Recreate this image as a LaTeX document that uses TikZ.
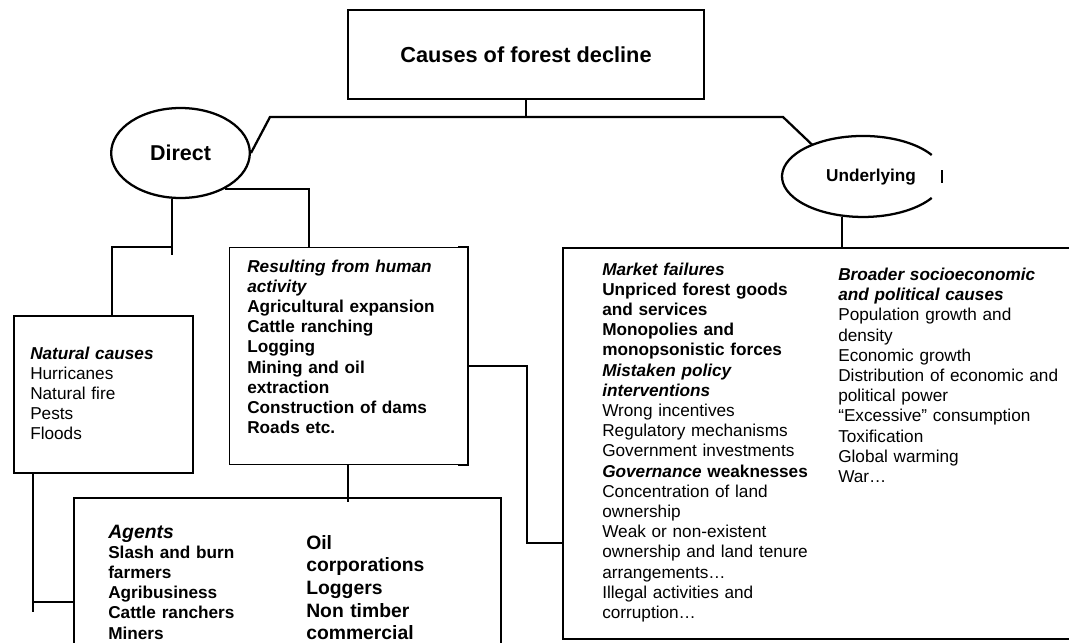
\documentclass[tikz,border=0pt]{standalone}
\usepackage{fontspec}
\setmainfont{Liberation Sans}
\usetikzlibrary{shapes,positioning,calc}

\tikzset{
    frame/.style={draw, line width=1.7pt, inner sep=0pt},
    link/.style={line width=1.7pt},
    body/.style={font=\fontsize{12.9}{15.15}\selectfont, text width=200pt, align=left, anchor=base west, inner sep=0pt},
    agent/.style={font=\bfseries\fontsize{14.5}{17}\selectfont, text width=200pt, align=left, anchor=base west, inner sep=0pt}
}

\begin{document}
\begin{tikzpicture}[x=0.75pt, y=-0.75pt]
    \useasboundingbox (0,0) rectangle (1069,642);

    % Title box at top
    \node[frame, minimum width=267pt, minimum height=67pt, font=\bfseries\fontsize{16.3}{19}\selectfont] (title) at (526,54.5) {Causes of forest decline};

    % The two kinds of causes
    \node[ellipse, draw, line width=1.7pt, minimum width=104pt, minimum height=67.5pt, inner sep=0pt, font=\bfseries\fontsize{16.1}{19}\selectfont] (dir) at (180.5,153) {Direct};
    \node[ellipse, minimum width=121.5pt, minimum height=60.75pt, inner sep=0pt] (und) at (863,176.5) {};
    \node[font=\bfseries\fontsize{12.9}{15}\selectfont] (undtxt) at (871,177) {Underlying};
    % open ellipse round Underlying
    \draw[line width=1.7pt] ([shift={(68.7,-21.5)}]und.center) arc[start angle=32, end angle=328, x radius=60.75pt, y radius=30.375pt];
    \draw[line width=1.2pt] ($(und.center)+(79,-6.5)$) -- ++(0,13);

    % Boxes
    \node[frame, minimum width=134pt, minimum height=117.75pt, anchor=north west] (nat) at (13,315) {};
    \node[draw, line width=0.75pt, inner sep=0pt, minimum width=178.5pt, minimum height=162.75pt, anchor=north west] (hum) at (229,247) {};
    \node[frame, minimum width=320.25pt, minimum height=120pt, anchor=north west] (agt) at (73,497) {};
    \node[frame, minimum width=396pt, minimum height=293.25pt, anchor=north west] (rbox) at (562,247) {};
    \draw[link] ($(hum.north east)+(-10,0)$) -- (hum.north east) -- (hum.south east) -- ++(-10,0);

    % Texts in the boxes
    \node[body] (nattxt) at (30,359) {{\bfseries\itshape Natural causes}\\Hurricanes\\Natural fire\\Pests\\Floods};
    \node[body, font=\bfseries\fontsize{12.9}{15.15}\selectfont] (humtxt) at (247,272) {{\itshape Resulting from human\\activity}\\Agricultural expansion\\Cattle ranching\\Logging\\Mining and oil\\extraction\\Construction of dams\\Roads etc.};
    \node[body, font=\bfseries\fontsize{12.9}{15.15}\selectfont] (agttxt) at (108,538) {{\bfseries\itshape\fontsize{14.5}{15.15}\selectfont Agents}\\Slash and burn\\farmers\\Agribusiness\\Cattle ranchers\\Miners};
    \node[agent] (agttxt2) at (306,549) {Oil\\corporations\\Loggers\\Non timber\\commercial};
    \node[body] (mkttxt) at (602,275) {{\bfseries\itshape Market failures}\\{\bfseries Unpriced forest goods\\and services\\Monopolies and\\monopsonistic forces}\\{\bfseries\itshape Mistaken policy\\interventions}\\Wrong incentives\\Regulatory mechanisms\\Government investments\\{\bfseries{\itshape Governance} weaknesses}\\Concentration of land\\ownership\\Weak or non-existent\\ownership and land tenure\\arrangements…\\Illegal activities and\\corruption…};
    \node[body] (brdtxt) at (838,280.5) {{\bfseries\itshape Broader socioeconomic\\and political causes}\\Population growth and\\density\\Economic growth\\Distribution of economic and\\political power\\“Excessive” consumption\\Toxification\\Global warming\\War…};

    % Connectors from the title
    \coordinate (barL) at (270,117);
    \coordinate (barR) at (783,117);
    \draw[link] (title.south) -- (title.south |- barL);
    \draw[link] (dir.east) -- (barL) -- (barR) -- (und.148);

    % Direct branches
    \coordinate (dsplit) at (172,247);
    \draw[link] (dsplit |- dir.south) -- ($(dsplit)+(0,8)$);
    \draw[link] (dsplit) -| ($(nat.north west)+(99,0)$);
    \draw[link] (dir.-39) -| ($(hum.north west)+(80,0)$);

    % Underlying branch
    \coordinate (ujoin) at (842,247);
    \draw[link] (ujoin |- und.south) -- (ujoin);

    % Links down to the agents and across to the underlying causes
    \draw[link] ($(hum.south west)+(119,0)$) -- ($(agt.north west)+(275,5)$);
    \draw[link] ($(nat.south west)+(20,0)$) -- ++(0,138);
    \draw[link] ($(agt.north west)+(0,105)$) -- ++(-40,0);
    \draw[link] ($(hum.north east)+(0,119)$) -- ++(59,0) |- ($(rbox.north west)+(0,296)$);
\end{tikzpicture}
\end{document}
